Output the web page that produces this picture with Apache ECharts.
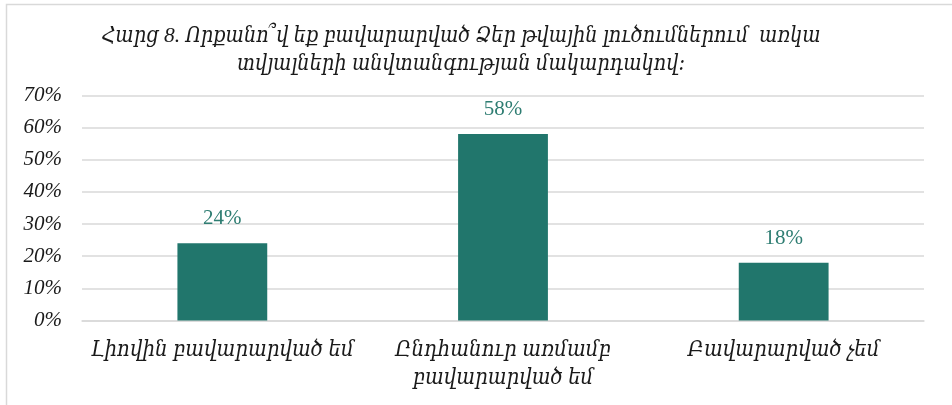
<!DOCTYPE html>
<html>
<head>
<meta charset="utf-8">
<script src="https://cdn.jsdelivr.net/npm/echarts@6/dist/echarts.min.js"></script>
<style>
  html, body { margin: 0; padding: 0; background: #fff; }
  #chart { width: 952px; height: 405px; }
</style>
</head>
<body>
<div id="chart"></div>
<script>
// Survey answers and their shares (percent)
const categories = [
  'Լիովին բավարարված եմ',
  'Ընդհանուր առմամբ\nբավարարված եմ',
  'Բավարարված չեմ'
];
const shares = [24, 58, 18];
const yTicks = [0, 10, 20, 30, 40, 50, 60, 70];

const titleText = 'Հարց 8. Որքանո՞վ եք բավարարված Ձեր թվային լուծումներում  առկա\nտվյալների անվտանգության մակարդակով։';

const FONT = "'Liberation Serif', 'DejaVu Serif Condensed', 'DejaVu Serif', serif";
const BAR = '#21766C';

const chart = echarts.init(document.getElementById('chart'));
chart.setOption({
  animation: false,
  backgroundColor: '#fff',
  title: {
    text: titleText,
    left: 456,
    top: 17,
    textAlign: 'center',
    textStyle: {
      fontFamily: FONT,
      fontStyle: 'italic',
      fontWeight: 'normal',
      fontSize: 21.5,
      lineHeight: 28,
      color: '#1a1a1a'
    }
  },
  graphic: [{
    type: 'polyline',
    shape: { points: [[6.5, 410], [6.5, 4.5], [960, 4.5]] },
    style: { stroke: '#d9d9d9', lineWidth: 1.5, fill: null },
    silent: true
  }],
  grid: { left: 82, right: 28, top: 95.5, bottom: 84.5, containLabel: false },
  xAxis: {
    type: 'category',
    data: categories,
    axisLine: { show: true, lineStyle: { color: '#d9d9d9', width: 1.5 } },
    axisTick: { show: false },
    axisLabel: {
      fontFamily: FONT,
      fontStyle: 'italic',
      fontSize: 22,
      lineHeight: 28,
      color: '#1a1a1a',
      margin: 16,
      interval: 0
    }
  },
  yAxis: {
    type: 'value',
    min: yTicks[0],
    max: yTicks[yTicks.length - 1],
    interval: 10,
    axisLine: { show: false },
    axisTick: { show: false },
    splitLine: { lineStyle: { color: '#d9d9d9', width: 1.5 } },
    axisLabel: {
      formatter: v => v + '%',
      fontFamily: FONT,
      fontStyle: 'italic',
      fontSize: 21,
      color: '#1a1a1a',
      margin: 20
    }
  },
  series: [{
    type: 'bar',
    data: shares,
    barWidth: '32%',
    itemStyle: { color: BAR },
    label: {
      show: true,
      position: 'top',
      distance: 14,
      formatter: p => p.value + '%',
      fontFamily: FONT,
      fontSize: 21,
      color: '#2E7D72'
    }
  }]
});
</script>
</body>
</html>
